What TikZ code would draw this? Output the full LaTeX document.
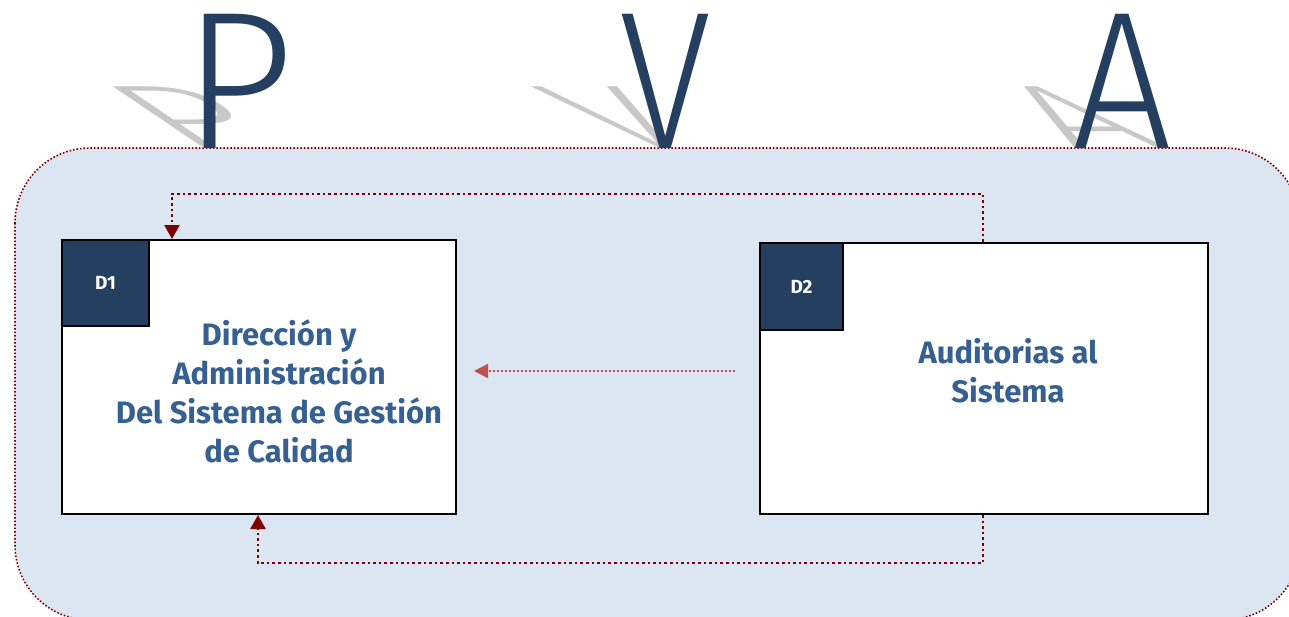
\documentclass[tikz,border=0pt]{standalone}
\usepackage{fontspec}
\usepackage{graphicx}
\usetikzlibrary{arrows.meta}
\newfontfamily\letterfont{Fira Sans Light}
\newfontfamily\boxfont{Fira Sans}
\definecolor{panelblue}{HTML}{DCE6F2}
\definecolor{navy}{HTML}{243F60}
\definecolor{textblue}{HTML}{366092}
\definecolor{linkred}{HTML}{7F0000}
\definecolor{softred}{HTML}{C0504D}
\definecolor{shadowgray}{HTML}{C8C8C8}
\begin{document}
\begin{tikzpicture}[x=1pt,y=-1pt,
  panel/.style={fill=panelblue, draw=linkred, line width=1.6pt,
    dash pattern=on 1.6pt off 1.9pt, rounded corners=75pt},
  mainbox/.style={draw=black, fill=white, line width=2pt, inner sep=0pt,
    anchor=north west},
  tabbox/.style={draw=black, fill=navy, line width=2pt, inner sep=0pt,
    anchor=north west, text=white, font=\boxfont\bfseries\fontsize{19}{19}\selectfont},
  boxtext/.style={align=center, text=textblue, inner sep=0pt,
    font=\boxfont\bfseries\fontsize{31}{39}\selectfont},
  link/.style={draw=linkred, line width=2.6pt, dash pattern=on 2.6pt off 3pt,
    -{Triangle[width=15pt,length=14pt]}},
  softlink/.style={draw=softred, line width=1.6pt, dash pattern=on 1.6pt off 2.4pt,
    -{Triangle[width=14pt,length=14pt]}},
  bigletter/.style={text=navy, inner sep=0pt, anchor=base,
    font=\letterfont\fontsize{196}{196}\selectfont},
  letterShadow/.style={text=shadowgray, inner sep=0pt, anchor=base, transform shape,
    font=\letterfont\fontsize{196}{196}\selectfont},
]
\useasboundingbox (0,0) rectangle (1289,616);
\clip (0,0) rectangle (1289,616);

% background panel
\path[panel] (15,148) rectangle (1300,620);

% perspective shadows of the P, V, A letters
\begin{scope}[shift={(238,148)}, yscale=0.46, xslant=-0.68]
  \node[letterShadow] (pshadow) at (0,0) {P};
\end{scope}
\begin{scope}[shift={(666,148)}, yscale=0.46, xslant=-0.68]
  \node[letterShadow] (vshadow) at (0,0) {\scalebox{0.86}[1]{V}};
\end{scope}
\begin{scope}[shift={(1122,148)}, yscale=0.46, xslant=-0.68]
  \node[letterShadow] (ashadow) at (0,0) {\scalebox{0.9}[1]{A}};
\end{scope}

% the letters themselves
\node[bigletter] (pletter) at (238,148) {P};
\node[bigletter] (vletter) at (666,148) {\scalebox{0.86}[1]{V}};
\node[bigletter] (aletter) at (1122,148) {\scalebox{0.9}[1]{A}};

% process boxes
\node[mainbox, minimum width=394pt, minimum height=274pt] (d1) at (61,239) {};
\node[tabbox, minimum width=87pt, minimum height=86pt] (d1tab) at (d1.north west) {D1};
\node[boxtext] (d1text) at (279,391)
  {Dirección y\\Administración\\Del Sistema de Gestión\\de Calidad};

\node[mainbox, minimum width=448pt, minimum height=271pt] (d2) at (759,242) {};
\node[tabbox, minimum width=83pt, minimum height=87pt] (d2tab) at (d2.north west) {D2};
\node[boxtext] (d2text) at (1008,371) {Auditorias al\\Sistema};

% feedback connectors
\draw[link] ([xshift=224pt]d2.north west) -- ++(0,-48) -| ([xshift=111pt]d1.north west);
\draw[link] ([xshift=224pt]d2.south west) -- ++(0,48) -| ([xshift=197pt]d1.south west);
\draw[softlink] ([shift={(-24,-7.5)}]d2.west) -- ([shift={(17,-6)}]d1.east);
\end{tikzpicture}
\end{document}
